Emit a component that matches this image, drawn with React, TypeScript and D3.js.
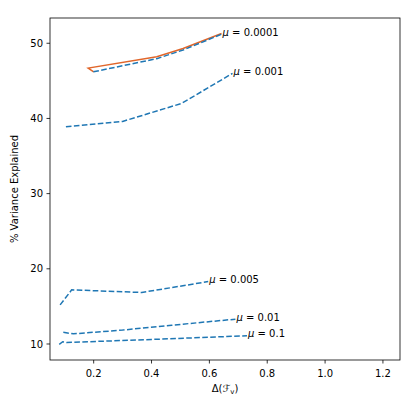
import React from "react";
import * as d3 from "d3";

// Δ(F_v) sweep results, one series per regularisation strength μ
const muLabels = ["0.0001", "0.001", "0.005", "0.01", "0.1"];

const mu0001X = [0.199, 0.418, 0.509, 0.642];
const mu0001Y = [46.2, 47.95, 49.1, 51.2];
const mu0001RefX = [0.2, 0.181, 0.418, 0.509, 0.642];
const mu0001RefY = [46.2, 46.7, 48.2, 49.3, 51.3];

const mu001X = [0.104, 0.3, 0.504, 0.68];
const mu001Y = [38.9, 39.6, 42.0, 46.0];

const mu005X = [0.084, 0.124, 0.366, 0.596];
const mu005Y = [15.2, 17.2, 16.85, 18.3];

const mu01X = [0.095, 0.13, 0.3, 0.47, 0.69];
const mu01Y = [11.55, 11.35, 11.85, 12.5, 13.3];

const mu1X = [0.081, 0.093, 0.107, 0.4, 0.73];
const mu1Y = [9.96, 10.3, 10.2, 10.6, 11.1];

const xTicks = [0.2, 0.4, 0.6, 0.8, 1.0, 1.2];
const yTicks = [10, 20, 30, 40, 50];

const W = 406;
const H = 400;
const M = { left: 50, right: 400, top: 18, bottom: 360 };
const FONT = "DejaVu Sans, sans-serif";
const BLUE = "#1f77b4";
const ORANGE = "#e1662a";

const zip = (xs: number[], ys: number[]) => xs.map((x, i) => [x, ys[i]] as [number, number]);

export default function App() {
  const x = d3.scaleLinear().domain([0.049, 1.259]).range([M.left, M.right]);
  const y = d3.scaleLinear().domain([7.87, 53.36]).range([M.bottom, M.top]);
  const line = d3
    .line<[number, number]>()
    .x((d) => x(d[0]))
    .y((d) => y(d[1]));

  const blueSeries = [
    zip(mu0001X, mu0001Y),
    zip(mu001X, mu001Y),
    zip(mu005X, mu005Y),
    zip(mu01X, mu01Y),
    zip(mu1X, mu1Y),
  ];
  const ref = zip(mu0001RefX, mu0001RefY);

  return (
    <svg
      width={W}
      height={H}
      style={{ position: "absolute", left: 0, top: 0, background: "#fff" }}
      fontFamily={FONT}
    >
      <rect x={0} y={0} width={W} height={H} fill="#fff" />
      <path d={line(ref) || ""} fill="none" stroke={ORANGE} strokeWidth={1.5} />
      {blueSeries.map((s, i) => (
        <path
          key={i}
          d={line(s) || ""}
          fill="none"
          stroke={BLUE}
          strokeWidth={1.5}
          strokeDasharray="5.6,2.4"
        />
      ))}
      {blueSeries.map((s, i) => {
        const last = s[s.length - 1];
        return (
          <text key={i} x={x(last[0]) + 1} y={y(last[1]) + 1.5} fontSize={10} fill="#000">
            <tspan fontStyle="italic">μ</tspan>
            <tspan> = {muLabels[i]}</tspan>
          </text>
        );
      })}
      {/* axes frame */}
      <rect
        x={M.left}
        y={M.top}
        width={M.right - M.left}
        height={M.bottom - M.top}
        fill="none"
        stroke="#000"
        strokeWidth={0.8}
      />
      {xTicks.map((t) => (
        <g key={t}>
          <line x1={x(t)} x2={x(t)} y1={M.bottom} y2={M.bottom + 3.5} stroke="#000" strokeWidth={0.8} />
          <text x={x(t)} y={M.bottom + 17} fontSize={10} textAnchor="middle" fill="#000">
            {t.toFixed(1)}
          </text>
        </g>
      ))}
      {yTicks.map((t) => (
        <g key={t}>
          <line x1={M.left - 3.5} x2={M.left} y1={y(t)} y2={y(t)} stroke="#000" strokeWidth={0.8} />
          <text x={M.left - 7} y={y(t) + 3.6} fontSize={10} textAnchor="end" fill="#000">
            {t}
          </text>
        </g>
      ))}
      <text x={(M.left + M.right) / 2} y={392} fontSize={10} textAnchor="middle" fill="#000">
        <tspan>Δ(</tspan>
        <tspan fontStyle="italic">ℱ</tspan>
        <tspan fontSize={7} dy={2}>v</tspan>
        <tspan dy={-2}>)</tspan>
      </text>
      <text
        transform={`translate(18,${(M.top + M.bottom) / 2}) rotate(-90)`}
        fontSize={10}
        textAnchor="middle"
        fill="#000"
      >
        % Variance Explained
      </text>
    </svg>
  );
}
